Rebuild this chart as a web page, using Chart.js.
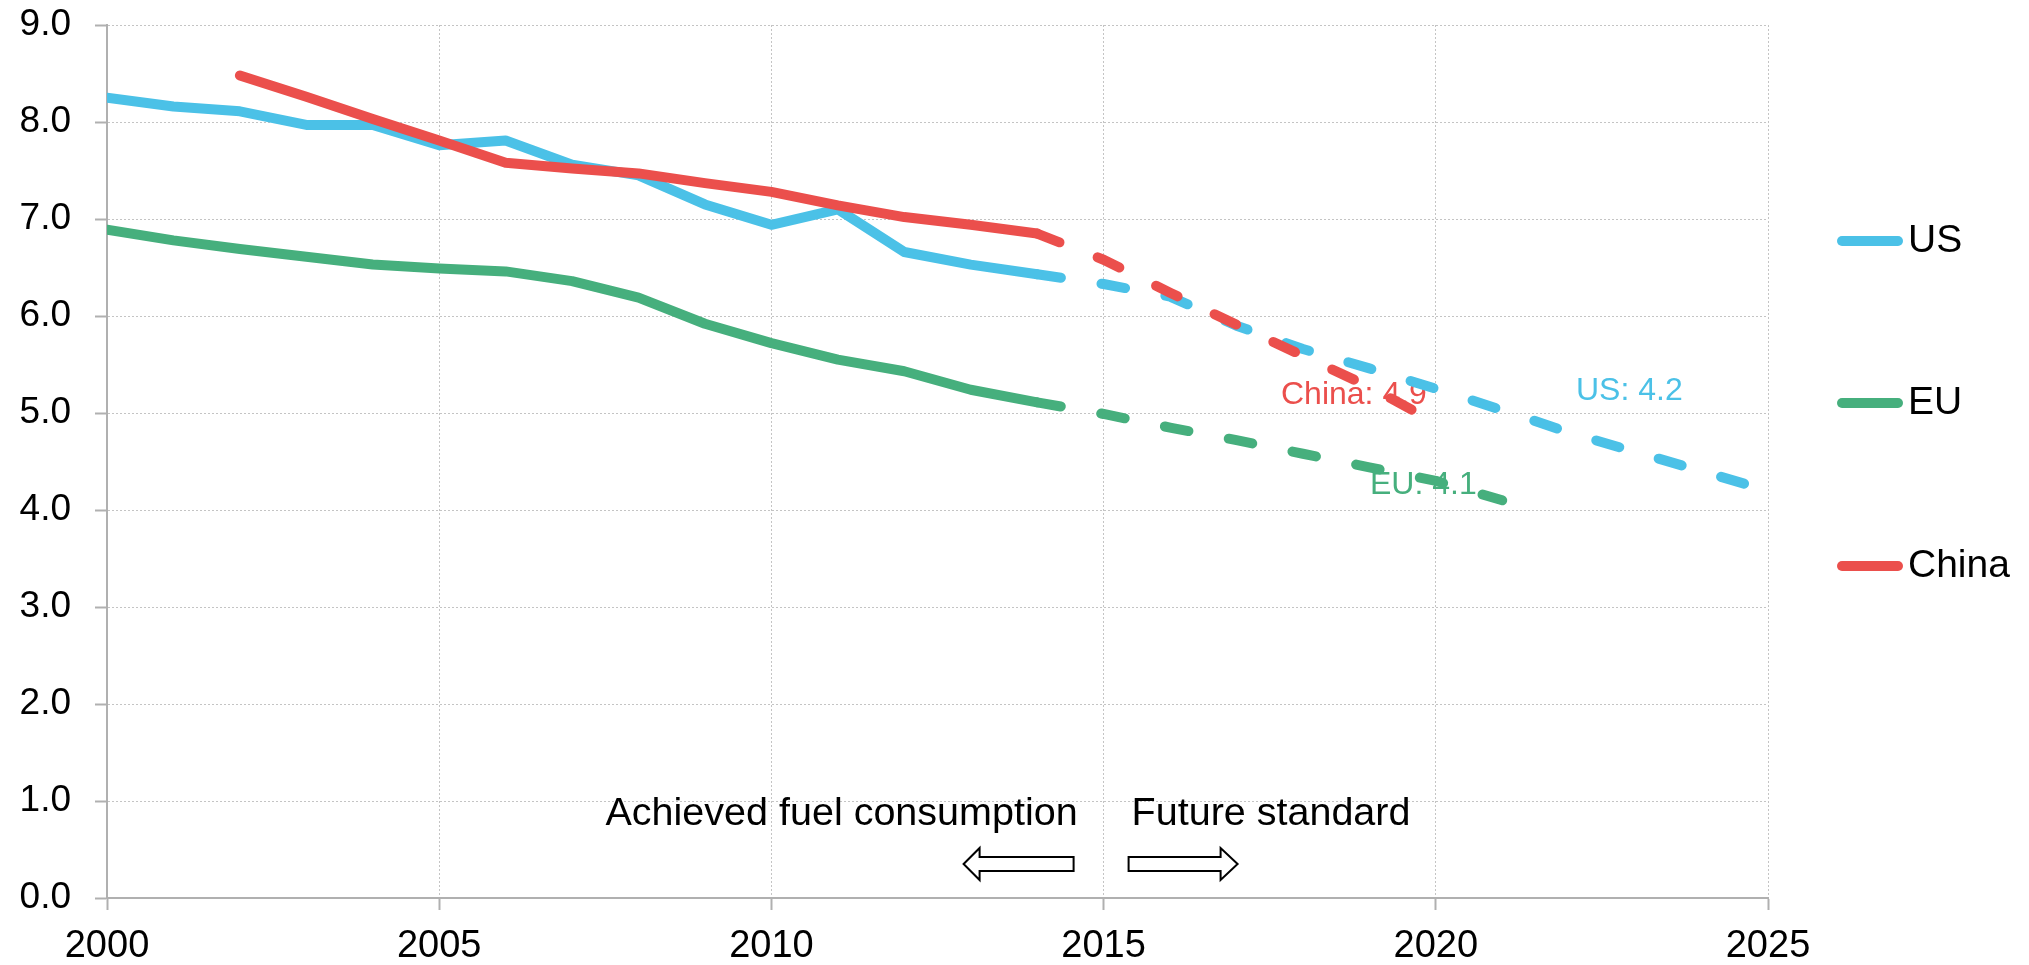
<!DOCTYPE html>
<html>
<head>
<meta charset="utf-8">
<script src="https://cdn.jsdelivr.net/npm/chart.js@4"></script>
<style>
  html, body { margin: 0; padding: 0; background: #fff; }
  #wrap { width: 2029px; height: 965px; }
</style>
</head>
<body>
<div id="wrap"><canvas id="chartFuel"></canvas></div>
<script>
// achieved fuel consumption, L/100km
const years = [2000, 2001, 2002, 2003, 2004, 2005, 2006, 2007, 2008, 2009, 2010, 2011, 2012, 2013, 2014];
const usActual = [8.25, 8.16, 8.11, 7.97, 7.97, 7.76, 7.81, 7.56, 7.45, 7.15, 6.94, 7.10, 6.66, 6.53, 6.43];
const euActual = [6.89, 6.78, 6.69, 6.61, 6.53, 6.49, 6.46, 6.36, 6.19, 5.92, 5.72, 5.55, 5.43, 5.24, 5.11];
const chinaActual = [null, null, 8.48, 8.26, 8.03, 7.81, 7.58, 7.52, 7.47, 7.37, 7.28, 7.14, 7.02, 6.94, 6.85];

// future standards
const usYears = [2014, 2015, 2016, 2017, 2018, 2019, 2020, 2021, 2022, 2023, 2024, 2025];
const usStandard = [6.43, 6.33, 6.20, 5.90, 5.66, 5.46, 5.25, 5.03, 4.80, 4.60, 4.40, 4.20];
const euYears = [2014, 2015, 2016, 2017, 2018, 2019, 2020, 2021];
const euStandard = [5.11, 4.99, 4.85, 4.72, 4.58, 4.44, 4.30, 4.10];
const chinaYears = [2014, 2015, 2016, 2017, 2018, 2019, 2020];
const chinaStandard = [6.85, 6.58, 6.24, 5.91, 5.59, 5.27, 4.90];

const seriesNames = ['US', 'EU', 'China'];
const endLabels = ['US: 4.2', 'EU: 4.1', 'China: 4.9'];

const colUS = '#4bc1e7';
const colEU = '#46af7d';
const colCN = '#eb4f4c';
const FONT = '"Liberation Sans", Arial, sans-serif';

function pts(xs, ys) {
  return xs.map((x, i) => ({x: x, y: ys[i]})).filter(p => p.y !== null);
}

function lineSet(label, data, color, dashed, order) {
  return {
    label: label,
    data: data,
    borderColor: color,
    backgroundColor: color,
    borderWidth: 10,
    borderCapStyle: 'round',
    borderJoinStyle: 'round',
    borderDash: dashed ? [24, 41] : [],
    pointRadius: 0,
    pointHoverRadius: 0,
    tension: 0,
    fill: false,
    order: order,
    showInLegend: !dashed
  };
}

// labels at the end of the standards, drawn under the lines
const endLabelPlugin = {
  id: 'endLabels',
  beforeDatasetsDraw(chart) {
    const {ctx, scales: {x, y}} = chart;
    const anchors = [[2022.11, 5.23, colUS], [2019.01, 4.26, colEU], [2017.67, 5.18, colCN]];
    ctx.save();
    ctx.font = '32px ' + FONT;
    ctx.textAlign = 'left';
    ctx.textBaseline = 'middle';
    anchors.forEach((a, i) => {
      ctx.fillStyle = a[2];
      ctx.fillText(endLabels[i], x.getPixelForValue(a[0]), y.getPixelForValue(a[1]));
    });
    ctx.restore();
  }
};

function arrow(ctx, tipX, baseX, endX, cy) {
  // tipX = point, baseX = where head meets shaft, endX = blunt end
  ctx.beginPath();
  ctx.moveTo(tipX, cy);
  ctx.lineTo(baseX, cy - 16);
  ctx.lineTo(baseX, cy - 7);
  ctx.lineTo(endX, cy - 7);
  ctx.lineTo(endX, cy + 7);
  ctx.lineTo(baseX, cy + 7);
  ctx.lineTo(baseX, cy + 16);
  ctx.closePath();
  ctx.fillStyle = '#fff';
  ctx.fill();
  ctx.lineWidth = 2;
  ctx.strokeStyle = '#000';
  ctx.stroke();
}

const notesPlugin = {
  id: 'notes',
  afterDraw(chart) {
    const {ctx, scales: {x}} = chart;
    const x15 = x.getPixelForValue(2015);
    ctx.save();
    ctx.font = '39.5px ' + FONT;
    ctx.fillStyle = '#000';
    ctx.textBaseline = 'alphabetic';
    ctx.textAlign = 'right';
    ctx.fillText('Achieved fuel consumption', x15 - 26, 825);
    ctx.textAlign = 'left';
    ctx.fillText('Future standard', x15 + 28, 825);
    arrow(ctx, x15 - 140, x15 - 124, x15 - 30, 864);
    arrow(ctx, x15 + 134, x15 + 117, x15 + 25, 864);

    // legend on the right
    const rows = [241, 403, 566];
    let r = 0;
    chart.data.datasets.forEach(ds => {
      if (!ds.showInLegend) return;
      const yy = rows[r++];
      ctx.beginPath();
      ctx.moveTo(1842, yy);
      ctx.lineTo(1898, yy);
      ctx.lineWidth = 10;
      ctx.lineCap = 'round';
      ctx.strokeStyle = ds.borderColor;
      ctx.stroke();
      ctx.font = '39px ' + FONT;
      ctx.fillStyle = '#000';
      ctx.textAlign = 'left';
      ctx.textBaseline = 'middle';
      ctx.fillText(ds.label, 1908, yy);
    });
    ctx.restore();
  }
};

const ctx = document.getElementById('chartFuel').getContext('2d');
new Chart(ctx, {
  type: 'line',
  data: {
    datasets: [
      lineSet(seriesNames[0], pts(years, usActual), colUS, false, 3),
      lineSet(seriesNames[1], pts(years, euActual), colEU, false, 2),
      lineSet(seriesNames[2], pts(years, chinaActual), colCN, false, 1),
      lineSet(seriesNames[0], pts(usYears, usStandard), colUS, true, 3),
      lineSet(seriesNames[1], pts(euYears, euStandard), colEU, true, 2),
      lineSet(seriesNames[2], pts(chinaYears, chinaStandard), colCN, true, 1)
    ]
  },
  options: {
    responsive: true,
    maintainAspectRatio: false,
    animation: false,
    layout: {
      padding: {top: 25, right: 261, bottom: 0, left: 0}
    },
    plugins: {
      legend: {display: false},
      tooltip: {enabled: false}
    },
    scales: {
      x: {
        type: 'linear',
        min: 2000,
        max: 2025,
        afterFit: function(scale) {
          scale.height = 67;
          scale.paddingLeft = 0;
          scale.paddingRight = 0;
        },
        ticks: {
          stepSize: 5,
          padding: 14,
          color: '#000',
          font: {family: FONT, size: 38},
          callback: function(value) { return String(value); }
        },
        grid: {
          color: '#c4c4c4',
          lineWidth: 1,
          tickLength: 12,
          tickColor: '#b0b0b0',
          tickWidth: 2
        },
        border: {color: '#b0b0b0', width: 2, dash: [2, 2]}
      },
      y: {
        min: 0,
        max: 9,
        afterFit: function(scale) {
          scale.width = 107;
          scale.paddingTop = 0;
          scale.paddingBottom = 0;
        },
        ticks: {
          stepSize: 1,
          padding: 24,
          color: '#000',
          font: {family: FONT, size: 37},
          callback: function(value) { return value.toFixed(1); }
        },
        grid: {
          color: '#c4c4c4',
          lineWidth: 1,
          tickLength: 12,
          tickColor: '#b0b0b0',
          tickWidth: 2
        },
        border: {color: '#b0b0b0', width: 2, dash: [2, 2]}
      }
    }
  },
  plugins: [endLabelPlugin, notesPlugin]
});
</script>
</body>
</html>
